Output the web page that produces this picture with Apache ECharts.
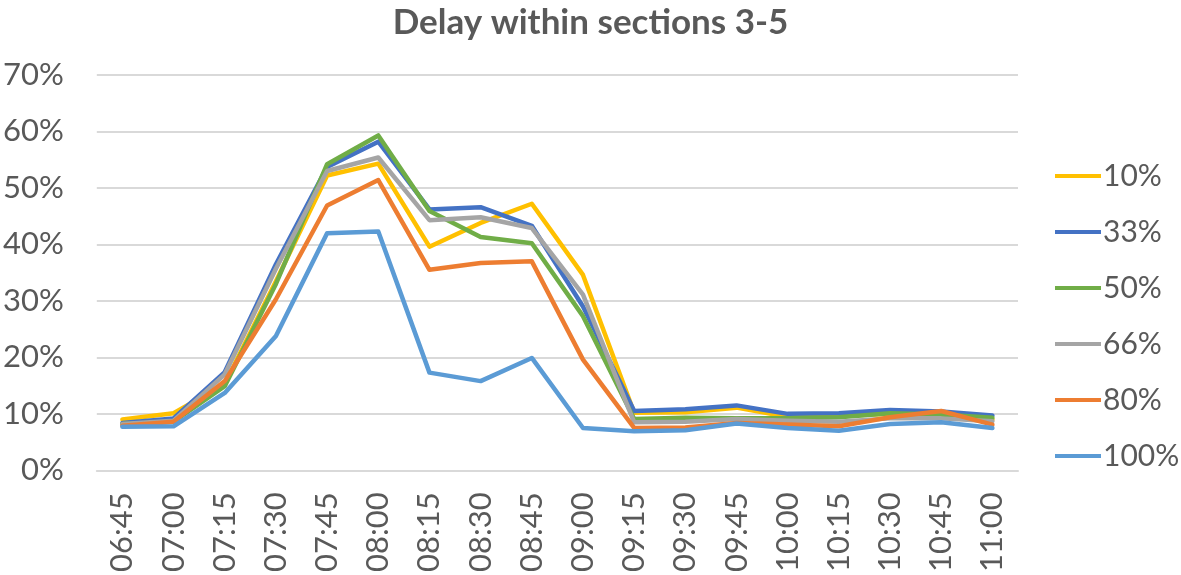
<!DOCTYPE html>
<html>
<head>
<meta charset="utf-8">
<script src="https://cdn.jsdelivr.net/npm/echarts@6/dist/echarts.min.js"></script>
<style>
html,body{margin:0;padding:0;background:#fff;}
#chart{width:1181px;height:575px;}
</style>
</head>
<body>
<div id="chart"></div>
<script>
const categories = ["06:45","07:00","07:15","07:30","07:45","08:00","08:15","08:30","08:45","09:00","09:15","09:30","09:45","10:00","10:15","10:30","10:45","11:00"];
const seriesNames = ["10%","33%","50%","66%","80%","100%"];
const s10  = [9.0, 10.1, 15.3, 33.5, 52.2, 54.3, 39.6, 43.8, 47.2, 34.6, 10.2, 10.3, 11.1, 9.5, 9.6, 10.0, 9.8, 9.0];
const s33  = [8.4, 9.2, 17.4, 36.5, 53.7, 58.2, 46.2, 46.6, 43.3, 29.0, 10.5, 10.8, 11.5, 10.0, 10.1, 10.7, 10.4, 9.7];
const s50  = [8.2, 8.6, 14.9, 33.0, 54.2, 59.3, 45.9, 41.3, 40.2, 27.3, 9.1, 9.3, 9.2, 9.2, 9.4, 10.1, 9.9, 9.3];
const s66  = [8.2, 8.8, 17.0, 35.7, 53.0, 55.4, 44.3, 44.8, 42.9, 31.1, 8.5, 8.6, 9.1, 8.8, 8.6, 9.2, 9.2, 8.7];
const s80  = [7.9, 8.6, 15.8, 30.3, 46.9, 51.4, 35.5, 36.7, 37.0, 19.6, 7.5, 7.6, 8.4, 8.1, 7.8, 9.4, 10.5, 8.1];
const s100 = [7.7, 7.8, 13.7, 23.8, 42.0, 42.3, 17.3, 15.8, 19.9, 7.5, 6.9, 7.1, 8.3, 7.5, 7.0, 8.2, 8.5, 7.5];
const seriesData = [s10, s33, s50, s66, s80, s100];
const colors = ["#FFC000","#4472C4","#70AD47","#A5A5A5","#ED7D31","#5B9BD5"];
const yTicks = {min: 0, max: 70, interval: 10};

const FONT = "Lato";
const chart = echarts.init(document.getElementById('chart'), null, {renderer:'canvas'});
chart.setOption({
  animation: false,
  color: colors,
  title: {
    text: "Delay within sections 3-5",
    left: 'center',
    top: 0,
    textStyle: {fontFamily: FONT, fontWeight: 'bold', fontSize: 35, color: '#595959'}
  },
  legend: {
    orient: 'vertical',
    left: 1050,
    top: 155,
    icon: 'rect',
    itemWidth: 46,
    itemHeight: 4,
    itemGap: 24,
    data: seriesNames,
    textStyle: {fontFamily: FONT, fontSize: 30, color: '#595959', lineHeight: 32, padding: [0,0,0,-3]}
  },
  grid: {left: 95, right: 163, top: 75, bottom: 104, containLabel: false},
  xAxis: {
    type: 'category',
    data: categories,
    boundaryGap: true,
    axisLine: {show: true, lineStyle: {color: '#d9d9d9', width: 2}},
    axisTick: {show: false},
    axisLabel: {rotate: 90, margin: 22, fontFamily: FONT, fontSize: 31, color: '#595959', interval: 0}
  },
  yAxis: {
    type: 'value',
    min: yTicks.min, max: yTicks.max, interval: yTicks.interval,
    axisLine: {show: false},
    axisTick: {show: false},
    splitLine: {lineStyle: {color: '#d9d9d9', width: 2}},
    axisLabel: {formatter: '{value}%', margin: 33, fontFamily: FONT, fontSize: 31, color: '#595959'}
  },
  series: seriesNames.map((n, i) => ({
    name: n,
    type: 'line',
    data: seriesData[i],
    symbol: 'none',
    lineStyle: {width: 4.5, color: colors[i], join: 'round', cap: 'round'},
    itemStyle: {color: colors[i]}
  }))
});
</script>
</body>
</html>
